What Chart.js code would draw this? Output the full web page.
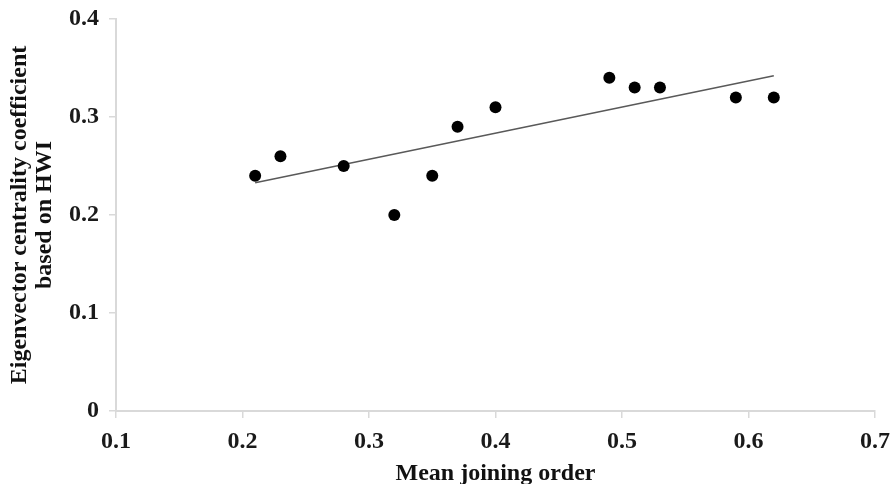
<!DOCTYPE html>
<html>
<head>
<meta charset="utf-8">
<script src="https://cdn.jsdelivr.net/npm/chart.js@4/dist/chart.umd.min.js"></script>
<style>
  html, body { margin: 0; padding: 0; background: #fff; }
  #wrap { width: 893px; height: 484px; }
</style>
</head>
<body>
<div id="wrap"><canvas id="chart"></canvas></div>
<script>
// values
const joiningOrder = [0.21, 0.23, 0.28, 0.32, 0.35, 0.37, 0.40, 0.49, 0.51, 0.53, 0.59, 0.62];
const centrality   = [0.24, 0.26, 0.25, 0.20, 0.24, 0.29, 0.31, 0.34, 0.33, 0.33, 0.32, 0.32];
const trendX = [0.21, 0.62];
const trendY = [0.233, 0.342];
const xTicks = [0.1, 0.2, 0.3, 0.4, 0.5, 0.6, 0.7];
const yTicks = [0, 0.1, 0.2, 0.3, 0.4];

const serif = "'Liberation Serif', 'Times New Roman', serif";
const axisGrey = '#d9d9d9';

const pts = joiningOrder.map((x, i) => ({ x: x, y: centrality[i] }));
const trend = trendX.map((x, i) => ({ x: x, y: trendY[i] }));

function fmt(v) {
    return String(Number(v.toFixed(1)));
}

new Chart(document.getElementById('chart').getContext('2d'), {
    type: 'scatter',
    data: {
        datasets: [{
            label: 'Trend',
            data: trend,
            type: 'line',
            showLine: true,
            borderColor: '#595959',
            borderWidth: 1.5,
            pointRadius: 0,
            fill: false,
            order: 2
        }, {
            label: 'HWI',
            data: pts,
            pointRadius: 6,
            pointBackgroundColor: '#000',
            pointBorderColor: '#000',
            pointBorderWidth: 0,
            order: 1
        }]
    },
    options: {
        responsive: true,
        maintainAspectRatio: false,
        animation: false,
        layout: { padding: { left: 0, right: 18, top: 19, bottom: 0 } },
        plugins: { legend: { display: false }, tooltip: { enabled: false } },
        scales: {
            x: {
                type: 'linear',
                min: 0.1, max: 0.7,
                afterBuildTicks: s => { s.ticks = xTicks.map(v => ({ value: v })); },
                afterFit: s => { s.height = 73; s.paddingLeft = 0; s.paddingRight = 0; },
                border: { color: axisGrey, width: 2 },
                grid: { display: true, drawOnChartArea: false, drawTicks: true, tickLength: 7, color: axisGrey, lineWidth: 1.5 },
                ticks: {
                    color: '#1a1a1a',
                    padding: 9,
                    font: { family: serif, size: 24, weight: 'bold' },
                    callback: v => fmt(v)
                },
                title: {
                    display: true,
                    text: 'Mean joining order',
                    color: '#111',
                    padding: { top: 0, bottom: -3 },
                    font: { family: serif, size: 24, weight: 'bold', lineHeight: 1.1 }
                }
            },
            y: {
                type: 'linear',
                min: 0, max: 0.4,
                afterBuildTicks: s => { s.ticks = yTicks.map(v => ({ value: v })); },
                afterFit: s => { s.width = 116; s.paddingTop = 0; s.paddingBottom = 0; },
                border: { color: axisGrey, width: 2 },
                grid: { display: true, drawOnChartArea: false, drawTicks: true, tickLength: 7, color: axisGrey, lineWidth: 1.5 },
                ticks: {
                    color: '#1a1a1a',
                    padding: 10,
                    font: { family: serif, size: 24, weight: 'bold' },
                    callback: v => fmt(v)
                },
                title: {
                    display: true,
                    text: ['Eigenvector centrality coefficient', 'based on HWI'],
                    color: '#111',
                    padding: { top: 7, bottom: 0 },
                    font: { family: serif, size: 24, weight: 'bold', lineHeight: 1.05 }
                }
            }
        }
    }
});
</script>
</body>
</html>
